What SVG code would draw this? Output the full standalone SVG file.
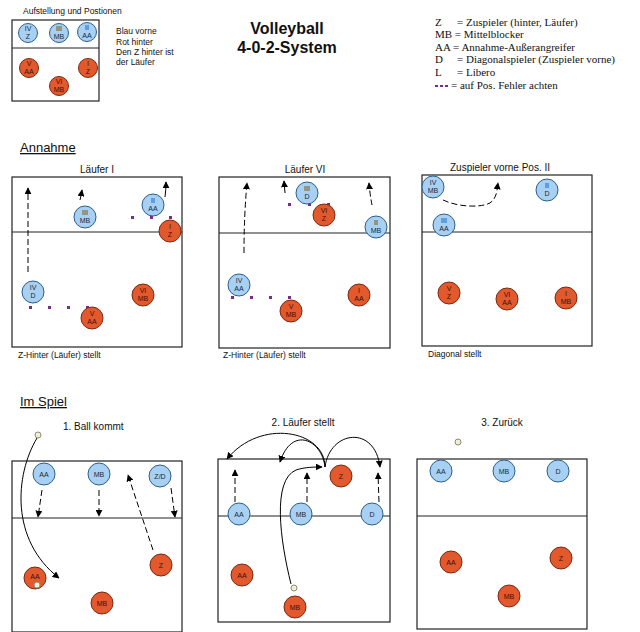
<svg xmlns="http://www.w3.org/2000/svg" width="640" height="632" viewBox="0 0 640 632">
<defs>
<marker id="ah" viewBox="0 0 10 10" refX="9" refY="5" markerWidth="7" markerHeight="7" orient="auto-start-reverse" markerUnits="userSpaceOnUse">
<path d="M0,0 L10,5 L0,10 z" fill="#000"/>
</marker>
<style>
text{font-family:"Liberation Sans",Arial,sans-serif;fill:#111}
.court{fill:#fff;stroke:#222;stroke-width:1.2}
.net{stroke:#222;stroke-width:1.2}
.b{fill:#a8d0f2;stroke:#2b5f8c;stroke-width:1}
.r{fill:#e2592d;stroke:#7a2a12;stroke-width:1}
.ct{font-size:7px;text-anchor:middle;fill:#1a2a3a}
.rt{font-size:7px;text-anchor:middle;fill:#3a1208}
.lab{font-size:10px;text-anchor:middle}
.cap{font-size:8.5px}
.sec{font-size:13px;text-decoration:underline}
.leg{font-family:"Liberation Serif","Times New Roman",serif;font-size:11px}
.dash{fill:none;stroke:#000;stroke-width:1;stroke-dasharray:6,3;marker-end:url(#ah)}
.solid{fill:none;stroke:#000;stroke-width:1;marker-end:url(#ah)}
.pd{fill:#7a2a8a}
.ball{fill:#f1f0c8;stroke:#888;stroke-width:1}
</style>
</defs>

<!-- Header -->
<text x="23" y="14" class="cap">Aufstellung und Postionen</text>
<rect x="12" y="20" width="87" height="81" class="court"/>
<line x1="12" y1="48" x2="99" y2="48" class="net"/>
<g id="leg-IV"><circle cx="28" cy="33" r="9.5" class="b"/><text x="28" y="31" class="ct">IV</text><text x="28" y="39" class="ct">Z</text></g>
<g id="leg-III"><circle cx="59" cy="33" r="9.5" class="b"/><text x="59" y="31" class="ct">III</text><text x="59" y="39" class="ct">MB</text></g>
<g id="leg-II"><circle cx="87" cy="32" r="9.5" class="b"/><text x="87" y="30" class="ct">II</text><text x="87" y="38" class="ct">AA</text></g>
<g id="leg-V"><circle cx="29" cy="68" r="9.5" class="r"/><text x="29" y="66" class="rt">V</text><text x="29" y="74" class="rt">AA</text></g>
<g id="leg-VI"><circle cx="59" cy="86" r="9.5" class="r"/><text x="59" y="84" class="rt">VI</text><text x="59" y="92" class="rt">MB</text></g>
<g id="leg-I"><circle cx="88" cy="68" r="9.5" class="r"/><text x="88" y="66" class="rt">I</text><text x="88" y="74" class="rt">Z</text></g>
<text x="116" y="34" class="cap">Blau vorne</text>
<text x="116" y="45" class="cap">Rot hinter</text>
<text x="116" y="55" class="cap">Den Z hinter ist</text>
<text x="116" y="65" class="cap">der Läufer</text>

<text x="287" y="34" style="font-size:16px;font-weight:bold;text-anchor:middle">Volleyball</text>
<text x="287" y="53" style="font-size:16px;font-weight:bold;text-anchor:middle">4-0-2-System</text>

<text x="435" y="26" class="leg">Z</text><text x="457" y="26" class="leg">= Zuspieler (hinter, Läufer)</text>
<text x="435" y="38" class="leg">MB = Mittelblocker</text>
<text x="435" y="51" class="leg">AA = Annahme-Außerangreifer</text>
<text x="435" y="63" class="leg">D</text><text x="457" y="63" class="leg">= Diagonalspieler (Zuspieler vorne)</text>
<text x="435" y="76" class="leg">L</text><text x="457" y="76" class="leg">= Libero</text>
<rect x="435" y="85" width="3" height="2" class="pd"/><rect x="440" y="85" width="3" height="2" class="pd"/><rect x="445" y="85" width="3" height="2" class="pd"/>
<text x="451" y="89" class="leg">= auf Pos. Fehler achten</text>

<!-- Annahme -->
<text x="20" y="152" class="sec">Annahme</text>

<!-- Court 1 -->
<text x="97" y="173" class="lab">Läufer I</text>
<rect x="12" y="177" width="170" height="170" class="court"/>
<line x1="12" y1="232" x2="182" y2="232" class="net"/>
<text x="18" y="358" class="cap">Z-Hinter (Läufer) stellt</text>

<!-- Court 2 -->
<text x="305" y="173" class="lab">Läufer VI</text>
<rect x="219" y="177" width="171" height="171" class="court"/>
<line x1="219" y1="233" x2="390" y2="233" class="net"/>
<text x="223" y="358" class="cap">Z-Hinter (Läufer) stellt</text>

<!-- Court 3 -->
<text x="500" y="171" class="lab">Zuspieler vorne Pos. II</text>
<rect x="422" y="175" width="170" height="171" class="court"/>
<line x1="422" y1="232" x2="592" y2="232" class="net"/>
<text x="428" y="357" class="cap">Diagonal stellt</text>

<!-- Im Spiel -->
<text x="20" y="406" class="sec">Im Spiel</text>
<text x="63" y="430" class="lab" style="text-anchor:start">1. Ball kommt</text>
<rect x="12" y="461" width="170" height="171" class="court"/>
<line x1="12" y1="518" x2="182" y2="518" class="net"/>

<text x="303" y="426" class="lab">2. Läufer stellt</text>
<rect x="218" y="459" width="172" height="163" class="court"/>
<line x1="218" y1="516" x2="390" y2="516" class="net"/>

<text x="502" y="426" class="lab">3. Zurück</text>
<rect x="417" y="459" width="170" height="170" class="court"/>
<line x1="417" y1="516" x2="587" y2="516" class="net"/>

<!-- Connectors -->
<g id="connectors">
<path d="M28,272 L28,188" class="dash"/>
<path d="M80,200 Q81,196 82,190" class="solid"/>
<path d="M165,197 Q166,190 166,182" class="solid"/>

<path d="M244,253 Q244,215 247,183" class="dash"/>
<path d="M285,193 L284,181" class="solid"/>
<path d="M372,205 Q370,195 369,183" class="dash"/>

<path d="M443,200 C458,207 480,208 490,203 C497,198 497,190 498,183" class="dash"/>

<path d="M42,490 L38,517" class="dash"/>
<path d="M99,490 L99,516" class="dash"/>
<path d="M171,488 L175,517" class="dash"/>
<path d="M153,550 L128,475" class="dash"/>
<path d="M37,438 C15,475 10,540 59,578" class="solid"/>

<path d="M235,502 L235,470" class="dash"/>
<path d="M307,502 L307,473" class="dash"/>
<path d="M379,502 L378,473" class="dash"/>
<path d="M291,584 C280,540 272,480 296,470 C305,467 315,467 322,467" class="solid"/>
<path d="M325,467 C325,430 260,418 227,459" class="solid"/>
<path d="M325,467 C322,440 292,425 280,462" class="solid"/>
<path d="M325,467 C330,430 375,425 380,467" class="solid"/>

<rect x="131" y="216" width="3" height="3" class="pd"/><rect x="150" y="216" width="3" height="3" class="pd"/><rect x="169" y="216" width="3" height="3" class="pd"/>
<rect x="29" y="306" width="3" height="3" class="pd"/><rect x="48" y="306" width="3" height="3" class="pd"/><rect x="67" y="306" width="3" height="3" class="pd"/><rect x="86" y="306" width="3" height="3" class="pd"/>
<rect x="288" y="203" width="3" height="3" class="pd"/><rect x="308" y="203" width="3" height="3" class="pd"/><rect x="327" y="203" width="3" height="3" class="pd"/>
<rect x="231" y="296" width="3" height="3" class="pd"/><rect x="250" y="296" width="3" height="3" class="pd"/><rect x="269" y="296" width="3" height="3" class="pd"/><rect x="288" y="296" width="3" height="3" class="pd"/>
</g>

<!-- Court 1 nodes -->
<g id="c1-II"><circle cx="153" cy="205" r="11" class="b"/><text x="153" y="203" class="ct">II</text><text x="153" y="211" class="ct">AA</text></g>
<g id="c1-III"><circle cx="85" cy="217" r="11" class="b"/><text x="85" y="215" class="ct">III</text><text x="85" y="223" class="ct">MB</text></g>
<g id="c1-I"><circle cx="170" cy="231" r="11" class="r"/><text x="170" y="229" class="rt">I</text><text x="170" y="237" class="rt">Z</text></g>
<g id="c1-IV"><circle cx="33" cy="292" r="11" class="b"/><text x="33" y="290" class="ct">IV</text><text x="33" y="298" class="ct">D</text></g>
<g id="c1-VI"><circle cx="143" cy="295" r="11" class="r"/><text x="143" y="293" class="rt">VI</text><text x="143" y="301" class="rt">MB</text></g>
<g id="c1-V"><circle cx="92" cy="318" r="11" class="r"/><text x="92" y="316" class="rt">V</text><text x="92" y="324" class="rt">AA</text></g>

<!-- Court 2 nodes -->
<g id="c2-III"><circle cx="307" cy="193" r="11" class="b"/><text x="307" y="191" class="ct">III</text><text x="307" y="199" class="ct">D</text></g>
<g id="c2-VI"><circle cx="324" cy="215" r="11" class="r"/><text x="324" y="213" class="rt">VI</text><text x="324" y="221" class="rt">Z</text></g>
<g id="c2-II"><circle cx="376" cy="227" r="11" class="b"/><text x="376" y="225" class="ct">II</text><text x="376" y="233" class="ct">MB</text></g>
<g id="c2-IV"><circle cx="239" cy="285" r="11" class="b"/><text x="239" y="283" class="ct">IV</text><text x="239" y="291" class="ct">AA</text></g>
<g id="c2-I"><circle cx="359" cy="295" r="11" class="r"/><text x="359" y="293" class="rt">I</text><text x="359" y="301" class="rt">AA</text></g>
<g id="c2-V"><circle cx="291" cy="311" r="11" class="r"/><text x="291" y="309" class="rt">V</text><text x="291" y="317" class="rt">MB</text></g>

<!-- Court 3 nodes -->
<g id="c3-IV"><circle cx="433" cy="187" r="11" class="b"/><text x="433" y="185" class="ct">IV</text><text x="433" y="193" class="ct">MB</text></g>
<g id="c3-II"><circle cx="547" cy="190" r="11" class="b"/><text x="547" y="188" class="ct">II</text><text x="547" y="196" class="ct">D</text></g>
<g id="c3-III"><circle cx="444" cy="225" r="11" class="b"/><text x="444" y="223" class="ct">III</text><text x="444" y="231" class="ct">AA</text></g>
<g id="c3-V"><circle cx="449" cy="293" r="11" class="r"/><text x="449" y="291" class="rt">V</text><text x="449" y="299" class="rt">Z</text></g>
<g id="c3-VI"><circle cx="507" cy="299" r="11" class="r"/><text x="507" y="297" class="rt">VI</text><text x="507" y="305" class="rt">AA</text></g>
<g id="c3-I"><circle cx="566" cy="298" r="11" class="r"/><text x="566" y="296" class="rt">I</text><text x="566" y="304" class="rt">MB</text></g>

<!-- Court 4 nodes -->
<g id="ball1"><circle cx="38" cy="435" r="3" class="ball"/></g>
<g id="c4-AA"><circle cx="44" cy="474" r="11" class="b"/><text x="44" y="477" class="ct">AA</text></g>
<g id="c4-MB"><circle cx="99" cy="474" r="11" class="b"/><text x="99" y="477" class="ct">MB</text></g>
<g id="c4-ZD"><circle cx="160" cy="476" r="11" class="b"/><text x="160" y="479" class="ct">Z/D</text></g>
<g id="c4-Z"><circle cx="161" cy="565" r="11" class="r"/><text x="161" y="568" class="rt">Z</text></g>
<g id="c4-AAr"><circle cx="35" cy="578" r="11" class="r"/><text x="35" y="579" class="rt">AA</text><circle cx="37" cy="585" r="3" class="ball"/></g>
<g id="c4-MBr"><circle cx="102" cy="603" r="11" class="r"/><text x="102" y="606" class="rt">MB</text></g>

<!-- Court 5 nodes -->
<g id="c5-Z"><circle cx="341" cy="476" r="11" class="r"/><text x="341" y="479" class="rt">Z</text></g>
<g id="c5-AA"><circle cx="239" cy="514" r="11" class="b"/><text x="239" y="517" class="ct">AA</text></g>
<g id="c5-MB"><circle cx="301" cy="514" r="11" class="b"/><text x="301" y="517" class="ct">MB</text></g>
<g id="c5-D"><circle cx="372" cy="514" r="11" class="b"/><text x="372" y="517" class="ct">D</text></g>
<g id="c5-AAr"><circle cx="242" cy="575" r="11" class="r"/><text x="242" y="578" class="rt">AA</text></g>
<g id="c5-MBr"><circle cx="295" cy="607" r="11" class="r"/><text x="295" y="610" class="rt">MB</text><circle cx="294" cy="588" r="3" class="ball"/></g>

<!-- Court 6 nodes -->
<g id="ball3"><circle cx="458" cy="442" r="3" class="ball"/></g>
<g id="c6-AA"><circle cx="441" cy="471" r="11" class="b"/><text x="441" y="474" class="ct">AA</text></g>
<g id="c6-MB"><circle cx="504" cy="471" r="11" class="b"/><text x="504" y="474" class="ct">MB</text></g>
<g id="c6-D"><circle cx="558" cy="471" r="11" class="b"/><text x="558" y="474" class="ct">D</text></g>
<g id="c6-AAr"><circle cx="451" cy="562" r="11" class="r"/><text x="451" y="565" class="rt">AA</text></g>
<g id="c6-Z"><circle cx="561" cy="558" r="11" class="r"/><text x="561" y="561" class="rt">Z</text></g>
<g id="c6-MBr"><circle cx="509" cy="596" r="11" class="r"/><text x="509" y="599" class="rt">MB</text></g>
</svg>
